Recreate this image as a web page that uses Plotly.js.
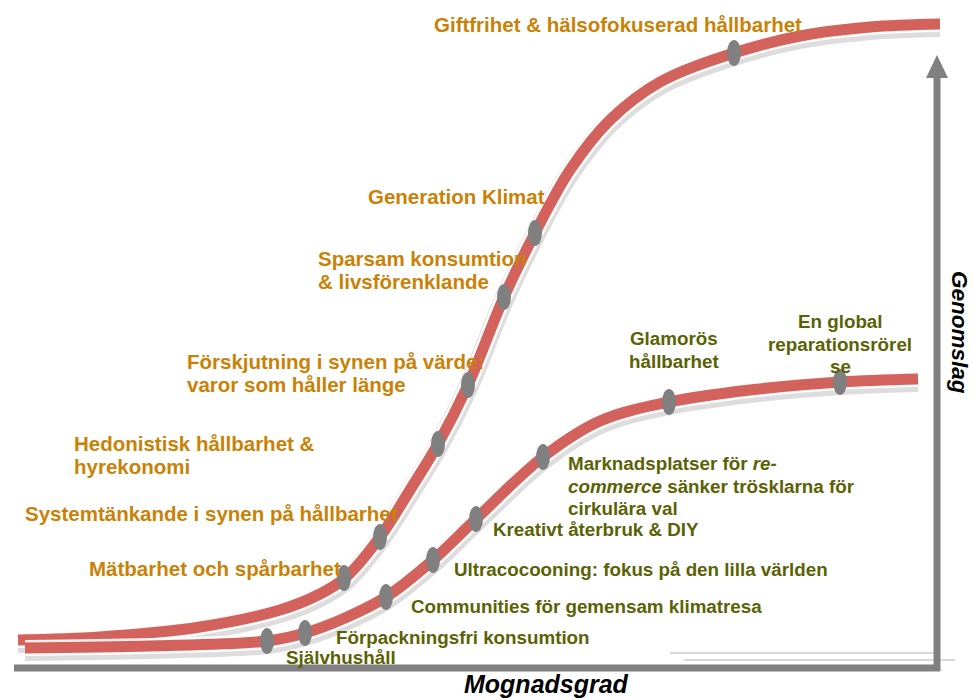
<!DOCTYPE html>
<html><head><meta charset="utf-8">
<script src="https://cdn.plot.ly/plotly-3.0.1.min.js"></script>
<style>html,body{margin:0;padding:0;background:#fff}#c{width:974px;height:700px}</style>
</head><body><div id="c"></div>
<script>
// Curve paths (image-pixel coordinate system: x right, y down)
const upperX = [18, 100, 200, 280, 320, 345, 380, 410, 438, 468, 504, 535, 570, 610, 660, 734, 800, 870, 940];
const upperY = [640, 637, 627, 610, 594, 578, 537, 490, 444, 385, 297, 233, 170, 120, 82, 53, 36, 27, 24];
const lowerX = [25, 150, 267, 305, 345, 386, 433, 476, 543, 600, 669, 750, 840, 918];
const lowerY = [648, 646, 641, 633, 618, 597, 560, 519, 457, 421, 402, 390, 382, 379];

// Milestone markers
const upperMarkX = [344, 380, 438, 468, 504, 535, 734];
const upperMarkY = [578, 537, 444, 385, 297, 233, 53];
const lowerMarkX = [267, 305, 386, 433, 476, 543, 669, 840];
const lowerMarkY = [641, 633, 597, 560, 519, 457, 402, 382];

// Labels
const upperLabels = [
  "Giftfrihet & hälsofokuserad hållbarhet",
  "Generation Klimat",
  "Sparsam konsumtion<br>& livsförenklande",
  "Förskjutning i synen på värde:<br>varor som håller länge",
  "Hedonistisk hållbarhet &<br>hyrekonomi",
  "Systemtänkande i synen på hållbarhet",
  "Mätbarhet och spårbarhet"
];
const upperLabelX = [432, 366, 316, 185, 72, 23, 87];
const upperLabelY = [24, 196, 270, 373, 455, 513, 568];

const lowerLabels = [
  "Glamorös<br>hållbarhet",
  "En global<br>reparationsrörel<br>se",
  "Marknadsplatser för <i>re-</i><br><i>commerce</i> sänker trösklarna för<br>cirkulära val",
  "Kreativt återbruk & DIY",
  "Ultracocooning: fokus på den lilla världen",
  "Communities för gemensam klimatresa",
  "Förpackningsfri konsumtion",
  "Självhushåll"
];
const lowerLabelX = [674, 840, 566, 491, 452, 409, 334, 284];
const lowerLabelY = [350, 344, 486, 529, 569, 606, 637, 657];
const lowerLabelAnchor = ["center", "center", "left", "left", "left", "left", "left", "left"];

const xTitle = "Mognadsgrad";
const yTitle = "Genomslag";

const RED = "#d2625b";
const ORANGE = "#c98207";
const OLIVE = "#5b6205";
const GREY = "#808080";
const FONT = "Liberation Sans, Arial, sans-serif";

function curveTraces(xs, ys) {
  return [
    {x: xs, y: ys.map(v => v + 3), mode: "lines", line: {shape: "spline", color: "rgba(120,120,120,0.25)", width: 20}, hoverinfo: "skip"},
    {x: xs, y: ys, mode: "lines", line: {shape: "spline", color: "rgba(255,255,255,0.9)", width: 16}, hoverinfo: "skip"},
    {x: xs, y: ys, mode: "lines", line: {shape: "spline", color: RED, width: 11}, hoverinfo: "skip"}
  ];
}

const data = [...curveTraces(upperX, upperY), ...curveTraces(lowerX, lowerY)];

const shapes = [];
// axes
shapes.push({type: "line", xref: "x", yref: "y", x0: 670, x1: 940, y0: 653, y1: 653, line: {color: "#cccccc", width: 1.5}});
shapes.push({type: "line", xref: "x", yref: "y", x0: 684, x1: 955, y0: 660, y1: 660, line: {color: "#cccccc", width: 1.5}});
shapes.push({type: "line", xref: "x", yref: "y", x0: 14, x1: 940, y0: 668, y1: 668, line: {color: GREY, width: 7}});
shapes.push({type: "line", xref: "x", yref: "y", x0: 937, x1: 937, y0: 671, y1: 75, line: {color: GREY, width: 7}});
shapes.push({type: "path", xref: "x", yref: "y", path: "M 926 78 L 948 78 L 937 55 Z", fillcolor: GREY, line: {width: 0}});
// ellipse markers
function addMarks(xs, ys) {
  xs.forEach((x, i) => {
    shapes.push({type: "circle", xref: "x", yref: "y", x0: x - 7, x1: x + 7, y0: ys[i] - 13, y1: ys[i] + 13, fillcolor: GREY, line: {width: 0}});
  });
}
addMarks(upperMarkX, upperMarkY);
addMarks(lowerMarkX, lowerMarkY);

const annotations = [];
function addLabel(text, x, yc, anchor, size, color, gap) {
  const lines = text.split("<br>");
  lines.forEach((ln, j) => annotations.push({
    text: "<b>" + ln + "</b>", x: x, y: yc + (j - (lines.length - 1) / 2) * gap, xref: "x", yref: "y",
    xanchor: anchor, yanchor: "middle", align: anchor, showarrow: false,
    font: {family: FONT, size: size, color: color}
  }));
}
upperLabels.forEach((t, i) => addLabel(t, upperLabelX[i], upperLabelY[i], "left", 20.5, ORANGE, 23));
lowerLabels.forEach((t, i) => addLabel(t, lowerLabelX[i], lowerLabelY[i], lowerLabelAnchor[i], 18.8, OLIVE, 22.5));

annotations.push({text: "<b><i>" + xTitle + "</i></b>", x: 546, y: 684, xref: "x", yref: "y", showarrow: false,
  xanchor: "center", yanchor: "middle", font: {family: FONT, size: 25, color: "#000"}});
annotations.push({text: "<b><i>" + yTitle + "</i></b>", x: 960, y: 332, xref: "x", yref: "y", showarrow: false,
  textangle: 90, xanchor: "center", yanchor: "middle", font: {family: FONT, size: 22.5, color: "#000"}});

const layout = {
  width: 974, height: 700,
  margin: {l: 0, r: 0, t: 0, b: 0},
  paper_bgcolor: "#fff", plot_bgcolor: "#fff",
  showlegend: false,
  xaxis: {range: [0, 974], visible: false, fixedrange: true},
  yaxis: {range: [700, 0], visible: false, fixedrange: true},
  shapes: shapes,
  annotations: annotations
};

Plotly.newPlot("c", data, layout, {staticPlot: true});
</script>
</body></html>
